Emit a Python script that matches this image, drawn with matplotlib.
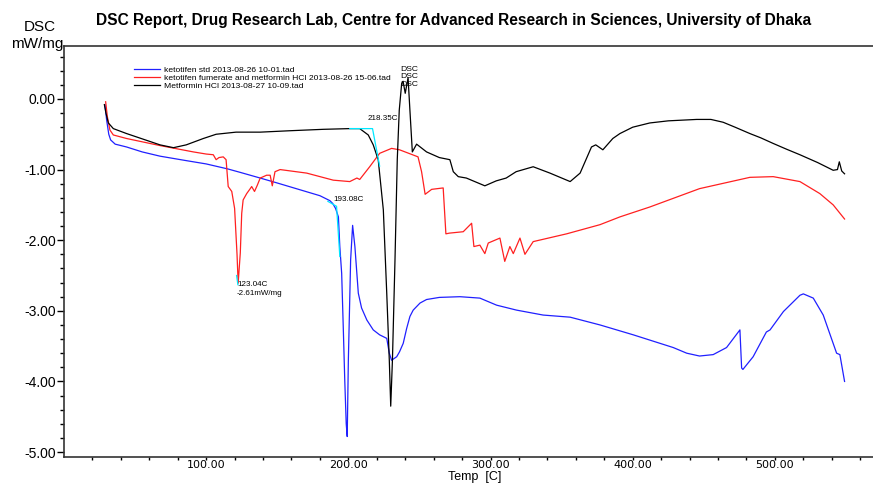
import matplotlib
matplotlib.use("Agg")
import matplotlib.pyplot as plt
from matplotlib.ticker import MultipleLocator, FixedLocator, FormatStrFormatter

# ketotifen std
t_blue = [28.8, 30, 31.5, 32.8, 36, 44, 55, 67.5, 85, 100, 115, 124, 138, 150, 165, 180,
          187, 189, 191, 193, 194, 195.3, 196.4, 197.5, 198.5, 199.2, 200, 201.6, 203, 204.6,
          207, 209.3, 213, 217.5, 222, 227, 228.8, 230.4, 234, 236, 238.6, 241, 243.3, 245.6,
          250.4, 255, 264, 278.5, 292.5, 304.3, 318.3, 337, 356, 377, 400.4, 428.5, 438, 447,
          456.6, 466, 475.4, 476.6, 477.5, 484.7, 494, 496.6, 506, 517.6, 520, 527, 534, 543.4,
          545.7, 549]
y_blue = [-0.08, -0.3, -0.5, -0.58, -0.64, -0.68, -0.75, -0.81, -0.87, -0.92, -0.99, -1.04,
          -1.12, -1.19, -1.28, -1.37, -1.44, -1.48, -1.55, -1.67, -2.09, -2.47, -3.22, -4.0,
          -4.6, -4.78, -3.70, -2.28, -1.79, -2.09, -2.75, -2.96, -3.13, -3.27, -3.34, -3.39,
          -3.6, -3.70, -3.65, -3.58, -3.46, -3.25, -3.08, -2.99, -2.89, -2.84, -2.81, -2.80,
          -2.82, -2.92, -2.99, -3.06, -3.09, -3.20, -3.34, -3.52, -3.60, -3.64, -3.62, -3.52,
          -3.27, -3.81, -3.83, -3.65, -3.30, -3.27, -3.01, -2.78, -2.76, -2.82, -3.06, -3.60,
          -3.62, -4.00]

# ketotifen fumerate and metformin HCl
t_red = [29.3, 30.5, 32.3, 34.7, 44, 67.5, 91, 100, 105, 107, 109, 112, 114, 115.5, 118, 120,
         121.7, 122.5, 124, 125, 126, 128.5, 131, 132, 134, 136, 138, 142.5, 145, 146.5, 148.4,
         152, 170.7, 189.4, 201, 204, 206, 208, 215, 222, 230.4, 236, 249, 251.5, 254, 258.6,
         266.7, 268.6, 271, 280.8, 286.7, 288.3, 292.5, 296, 298.4, 306.6, 310, 313.6, 316,
         320.7, 324.2, 330, 353.5, 377, 391, 412, 447, 482.4, 498.8, 517.6, 531.6, 541, 549]
y_red = [-0.04, -0.25, -0.44, -0.51, -0.56, -0.66, -0.75, -0.78, -0.79, -0.86, -0.83, -0.82,
         -0.86, -1.24, -1.31, -1.55, -2.2, -2.61, -2.18, -1.62, -1.43, -1.34, -1.27, -1.24,
         -1.31, -1.22, -1.12, -1.08, -1.08, -1.23, -1.03, -1.0, -1.05, -1.15, -1.17, -1.14,
         -1.12, -1.14, -0.96, -0.77, -0.70, -0.72, -0.82, -1.03, -1.35, -1.28, -1.26, -1.91,
         -1.90, -1.88, -1.76, -2.09, -2.07, -2.19, -2.04, -1.97, -2.30, -2.09, -2.19, -1.97,
         -2.20, -2.02, -1.91, -1.78, -1.67, -1.53, -1.27, -1.11, -1.10, -1.17, -1.34, -1.50,
         -1.70]

# Metformin HCl
t_black = [28.4, 29.5, 31.2, 34.7, 44, 67.5, 77, 86, 98, 102.5, 107, 121, 138, 159, 182.4,
           201, 208, 214, 217.5, 221, 224.6, 227, 228.8, 229.8, 231, 232.8, 234.4, 235.8,
           237.5, 238.5, 240, 242, 243.3, 245, 248, 255, 264, 271.4, 273.8, 277.3, 283, 296,
           304, 311, 318, 330, 341.8, 356, 363, 371, 374, 379, 386, 391, 400, 412, 425, 445,
           455, 463.6, 472, 482.4, 490, 498.8, 508, 517.6, 530, 541, 544, 545.3, 547, 549]
y_black = [-0.08, -0.2, -0.34, -0.42, -0.49, -0.65, -0.69, -0.65, -0.56, -0.53, -0.50, -0.47,
           -0.47, -0.45, -0.43, -0.42, -0.42, -0.51, -0.65, -0.86, -1.57, -2.75, -3.70, -4.35,
           -3.70, -2.28, -0.86, -0.16, 0.22, 0.25, 0.08, 0.30, -0.16, -0.75, -0.64, -0.75,
           -0.83, -0.86, -1.03, -1.10, -1.12, -1.23, -1.16, -1.12, -1.03, -0.96, -1.05, -1.17,
           -1.05, -0.68, -0.65, -0.72, -0.56, -0.49, -0.40, -0.34, -0.31, -0.29, -0.29, -0.33,
           -0.40, -0.49, -0.55, -0.63, -0.71, -0.79, -0.90, -1.01, -1.0, -0.89, -1.02, -1.06]

# onset construction lines (cyan)
onset_black_t = [201, 217, 222]
onset_black_y = [-0.42, -0.42, -0.95]
onset_blue_t = [185.6, 191.7, 194]
onset_blue_y = [-1.45, -1.52, -2.23]
onset_red_t = [121.4, 122.3]
onset_red_y = [-2.50, -2.63]

x_major = [100, 200, 300, 400, 500]
x_minor = list(range(20, 580, 20))

labels = ["ketotifen std 2013-08-26 10-01.tad",
          "ketotifen fumerate and metformin HCl 2013-08-26 15-06.tad",
          "Metformin HCl 2013-08-27 10-09.tad"]

plt.rcParams['font.family'] = ['Liberation Sans', 'DejaVu Sans']

fig = plt.figure(figsize=(8.73, 4.83), dpi=100)
ax = fig.add_axes([0.0733, 0.0538, 0.9267, 0.851])

lw = 0.9
ax.plot(t_blue, y_blue, color="#2020ff", lw=lw, label=labels[0])
ax.plot(t_red, y_red, color="#ff2020", lw=lw, label=labels[1])
ax.plot(t_black, y_black, color="black", lw=lw, label=labels[2])
ax.plot(onset_black_t, onset_black_y, color="#00e8ff", lw=lw)
ax.plot(onset_blue_t, onset_blue_y, color="#00e8ff", lw=lw)
ax.plot(onset_red_t, onset_red_y, color="#00e8ff", lw=lw)

ax.text(213.8, -0.28, "218.35C", fontsize=5.8, va="center")
ax.text(189.2, -1.43, "193.08C", fontsize=5.8, va="center")
ax.text(121.7, -2.63, "123.04C", fontsize=5.8, va="center")
ax.text(121.3, -2.76, "-2.61mW/mg", fontsize=5.8, va="center")

ax.set_xlim(0, 569)
ax.set_ylim(-5.07, 0.75)
ax.xaxis.set_major_locator(FixedLocator(x_major))
ax.xaxis.set_minor_locator(FixedLocator(x_minor))
ax.yaxis.set_major_locator(MultipleLocator(1))
ax.yaxis.set_minor_locator(MultipleLocator(0.2))
ax.xaxis.set_major_formatter(FormatStrFormatter("%.2f"))
ax.yaxis.set_major_formatter(FormatStrFormatter("%.2f"))
ax.tick_params(axis="y", which="major", direction="out", length=5, width=1, labelsize=10, pad=1)
ax.tick_params(axis="y", which="minor", direction="out", length=3, width=1)
ax.tick_params(axis="x", which="major", direction="out", length=2.5, width=1, labelsize=8, pad=0)
ax.tick_params(axis="x", which="minor", direction="out", length=2.5, width=1)
for lab in ax.get_xticklabels():
    lab.set_family("DejaVu Sans")
ax.spines["right"].set_visible(False)
for s in ["left", "top", "bottom"]:
    ax.spines[s].set_linewidth(1.2)
    ax.spines[s].set_color("#333333")

leg = ax.legend(loc="upper left", bbox_to_anchor=(0.087, 0.952), frameon=False,
                fontsize=6.1, labelspacing=0.0, handlelength=3.0, handletextpad=0.5,
                borderpad=0, borderaxespad=0)
for y in [0.857, 0.841, 0.826]:
    fig.text(0.458, y, "DSC", fontsize=6.1, va="center")

fig.text(0.519, 0.958, "DSC Report, Drug Research Lab, Centre for Advanced Research in Sciences, University of Dhaka",
         ha="center", va="center", fontsize=11.2, fontweight="bold")
fig.text(0.046, 0.945, "DSC", ha="center", va="center", fontsize=11)
fig.text(0.043, 0.909, "mW/mg", ha="center", va="center", fontsize=11)
fig.text(0.544, 0.0, "Temp  [C]", ha="center", va="bottom", fontsize=9)

fig.savefig("out.png", dpi=100)
